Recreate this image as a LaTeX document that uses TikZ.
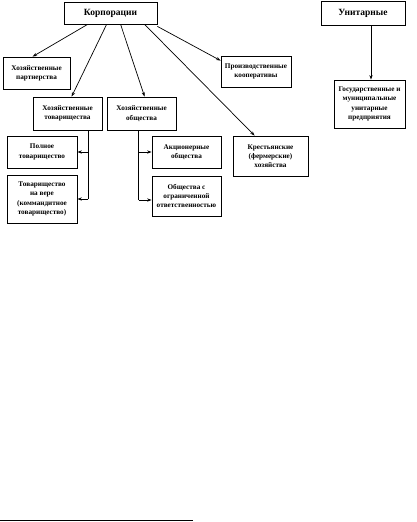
\documentclass[tikz,border=0pt]{standalone}
\usepackage{fontspec}
\setmainfont{Liberation Serif}
\usetikzlibrary{arrows.meta}
\begin{document}
\begin{tikzpicture}[x=1pt,y=-1pt,
  box/.style={draw=black,line width=0.8pt,rectangle,align=center,inner sep=1pt,
    font=\fontsize{7.2}{9.3}\selectfont\bfseries},
  bigbox/.style={box,font=\fontsize{9.5}{11}\selectfont\bfseries},
  arr/.style={line width=0.7pt,-{Stealth[length=4.5pt,width=3.2pt]}},
  ln/.style={line width=0.7pt}]
\useasboundingbox (0,0) rectangle (416,522);
\fill[white] (0,0) rectangle (416,522);
\node[bigbox,minimum width=93pt,minimum height=22pt] (korp) at (110.5,13) {Корпорации};
\node[bigbox,minimum width=84pt,minimum height=24pt] (unit) at (363,13) {Унитарные};
\node[box,minimum width=67pt,minimum height=32pt] (partn) at (36.5,73) {Хозяйственные\\партнерства};
\node[box,minimum width=69pt,minimum height=33pt] (tov) at (67.5,113.5) {Хозяйственные\\товарищества};
\node[box,minimum width=69pt,minimum height=33pt] (obsh) at (141.5,113.5) {Хозяйственные\\общества};
\node[box,minimum width=70pt,minimum height=31pt] (koop) at (256,71.5) {Производственные\\кооперативы};
\node[box,minimum width=71pt,minimum height=48pt] (gos) at (369.5,104) {Государственные и\\муниципальные\\унитарные\\предприятия};
\node[box,minimum width=75pt,minimum height=40pt] (krest) at (270.5,156) {Крестьянские\\(фермерские)\\хозяйства};
\node[box,minimum width=70pt,minimum height=32pt] (poln) at (42,152) {Полное\\товарищество};
\node[box,minimum width=70pt,minimum height=48pt] (nav) at (42,199) {Товарищество\\на вере\\(коммандитное\\товарищество)};
\node[box,minimum width=69pt,minimum height=32pt] (akc) at (186.5,152) {Акционерные\\общества};
\node[box,minimum width=69pt,minimum height=40pt] (ooo) at (186.5,196) {Общества с\\ограниченной\\ответственностью};
% connectors from Корпорации
\draw[arr] ([xshift=24pt]korp.south west) -- ([xshift=30pt]partn.north west);
\draw[arr] ([xshift=43pt]korp.south west) -- ([xshift=39pt]tov.north west);
\draw[arr] ([xshift=57pt]korp.south west) -- ([xshift=38pt]obsh.north west);
\draw[arr] ([xshift=81pt]korp.south west) -- ([xshift=22pt]krest.north west);
\draw[arr] ([yshift=-2pt]korp.south east) -- ([yshift=-5pt]koop.north west);
\coordinate (u1) at ([xshift=8pt]unit.south);
\draw[arr] (u1) -- (u1 |- gos.north);
% товарищества
\coordinate (t1) at ([xshift=-14pt]tov.south east);
\coordinate (t2) at (t1 |- poln.east);
\coordinate (t3) at (t1 |- nav.east);
\draw[ln] (t1) -- (t3);
\draw[arr] (t2) -- (poln.east);
\draw[arr] (t3) -- (nav.east);
% общества
\coordinate (o1) at ([xshift=32pt]obsh.south west);
\coordinate (o2) at (o1 |- akc.west);
\coordinate (o4) at ([yshift=-4pt]ooo.west);
\coordinate (o3) at (o1 |- o4);
\draw[ln] (o1) -- (o3);
\draw[arr] (o2) -- (akc.west);
\draw[arr] (o3) -- (o4);
% footnote rule
\draw[line width=0.9pt] (0,520) -- (193,520);
\end{tikzpicture}
\end{document}
